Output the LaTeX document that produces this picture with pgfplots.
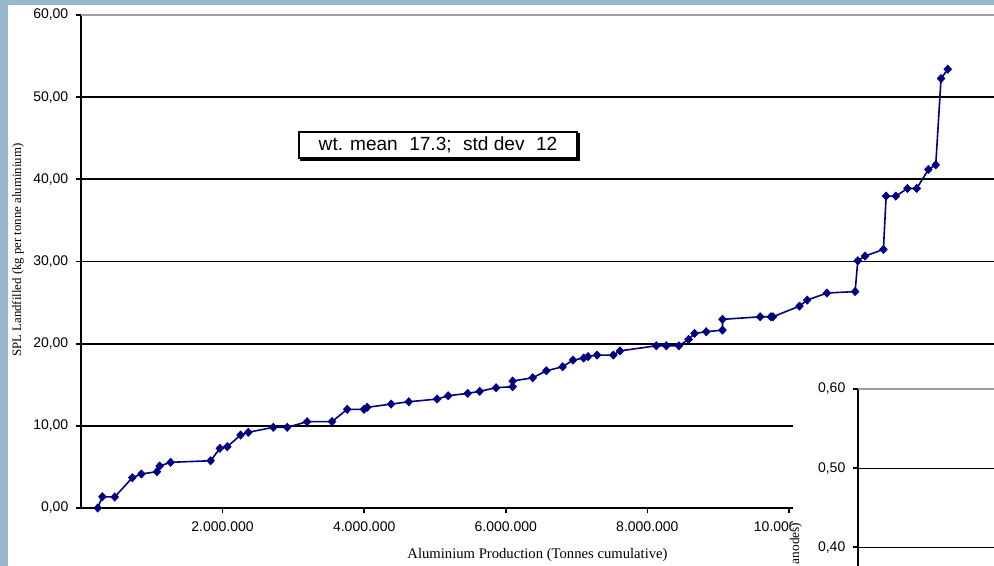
\documentclass[border=0pt]{standalone}
\usepackage{pgfplots}
\pgfplotsset{compat=1.18}
\usepackage{pgfplotstable}
\usepackage{fontspec}
\setmainfont{Liberation Serif}
\newfontfamily\arial{Liberation Sans}
\definecolor{bordblue}{HTML}{97B7CB}
\definecolor{navy}{HTML}{000080}

\pgfplotstableread{
x y
236000 0
302000 1.37
476000 1.34
725000 3.69
853000 4.14
1073000 4.42
1111000 5.11
1266000 5.56
1831000 5.75
1962000 7.26
2066000 7.46
2254000 8.88
2363000 9.21
2716000 9.82
2913000 9.82
3193000 10.50
3546000 10.52
3760000 12.01
3997000 12.01
4042000 12.25
4381000 12.65
4630000 12.93
5030000 13.26
5186000 13.66
5462000 13.95
5632000 14.20
5863000 14.64
6097000 14.76
6097000 15.45
6380000 15.85
6573000 16.70
6803000 17.19
6950000 18.00
7100000 18.25
7162000 18.43
7289000 18.61
7519000 18.61
7613000 19.12
8126000 19.74
8267000 19.74
8446000 19.74
8582000 20.52
8666000 21.25
8831000 21.45
9061000 21.65
9061000 22.96
9593000 23.27
9744000 23.27
9773000 23.27
10148000 24.57
10257000 25.30
10535000 26.16
10934000 26.34
10972000 30.09
11075000 30.66
11334000 31.47
11372000 37.96
11509000 37.96
11673000 38.89
11805000 38.89
11969000 41.20
12073000 41.76
12148000 52.27
12243000 53.40
}\spl

\begin{document}
\begin{tikzpicture}[x=0.75pt,y=0.75pt]
\clip (0,0) rectangle (994,566);
\fill[white] (0,0) rectangle (994,566);
\begin{axis}[
  at={(60.75pt,43.5pt)}, anchor=south west, scale only axis,
  width=684.75pt, height=369.75pt,
  xmin=0, xmax=12896000, ymin=0, ymax=60,
  axis x line*=bottom, axis y line*=left,
  axis line style={line width=1.6pt, black},
  tick align=outside, major tick length=4pt,
  tick style={line width=1.3pt, black},
  scaled x ticks=false,
  xtick={2000000,4000000,6000000,8000000,10000000},
  xticklabels={2.000.000,4.000.000,6.000.000,8.000.000,10.000.000},
  xticklabel style={yshift=-3pt},
  ytick={0,10,20,30,40,50,60},
  yticklabel style={xshift=-2pt, /pgf/number format/.cd, fixed, fixed zerofill, precision=2, use comma, assume math mode=true},
  ticklabel style={font=\arial\fontsize{10.5}{12}\selectfont},
  ymajorgrids, grid style={black, line width=1.3pt},
  xlabel={Aluminium Production (Tonnes cumulative)},
  xlabel style={at={(axis description cs:0.5,-0.0953)}, anchor=center, font=\fontsize{11}{13}\selectfont},
  ylabel={SPL Landfilled (kg per tonne aluminium)},
  ylabel style={at={(axis description cs:-0.069,0.523)}, anchor=center, font=\fontsize{9.6}{11}\selectfont},
  clip=false,
]
\draw[gray!75, line width=1.6pt] (rel axis cs:0,1) -- (rel axis cs:1,1);
\addplot[color=navy, line width=1.2pt, mark=diamond*, mark size=3pt, mark options={fill=navy, line width=0.6pt, xscale=1.25}] table {\spl};
\end{axis}
\fill[black] (300,405) rectangle (580,433);
\node[draw, line width=1.1pt, fill=white, font=\arial\fontsize{14.3}{16}\selectfont, minimum width=208.5pt, minimum height=19.5pt, inner sep=0pt] at (438,421) {wt. mean\hspace{0.6em}17.3;\hspace{0.6em}std dev\hspace{0.6em}12};
\fill[white] (793,0) rectangle (994,196);
\begin{axis}[
  at={(643.5pt,0pt)}, anchor=south west, scale only axis,
  width=102pt, height=132.75pt,
  xmin=0, xmax=1, ymin=0.376, ymax=0.6,
  axis y line*=left, axis x line=none,
  axis line style={line width=1.6pt, black},
  tick align=outside, major tick length=4pt,
  tick style={line width=1.3pt, black},
  xtick=\empty,
  ytick={0.4,0.5,0.6},
  yticklabel style={xshift=-2pt, /pgf/number format/.cd, fixed, fixed zerofill, precision=2, use comma, assume math mode=true},
  ticklabel style={font=\arial\fontsize{10.5}{12}\selectfont},
  ymajorgrids, grid style={black, line width=0.6pt},
  clip=false,
]
\draw[gray!75, line width=1.4pt] (rel axis cs:0,1) -- (rel axis cs:1,1);
\end{axis}
\node[rotate=90, anchor=east, font=\fontsize{10}{11}\selectfont] at (796,48) {l anodes)};
\fill[bordblue] (0,0) rectangle (8,566);
\fill[bordblue] (0,561) rectangle (994,566);
\end{tikzpicture}
\end{document}
